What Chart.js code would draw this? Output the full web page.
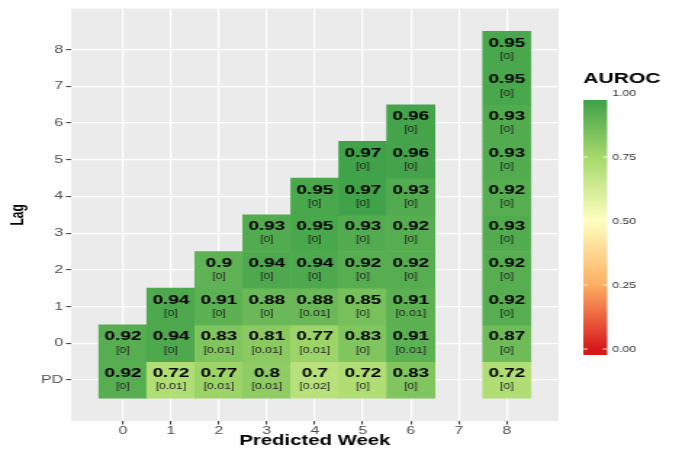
<!DOCTYPE html>
<html>
<head>
<meta charset="utf-8">
<script src="https://cdn.jsdelivr.net/npm/chart.js@4"></script>
<style>
  html, body { margin: 0; padding: 0; background: #fff; }
  canvas { display: block; }
</style>
</head>
<body>
<!-- drawn narrow then stretched, the reference picture is widened the same way -->
<canvas id="heat" width="468" height="455" style="width:679px;height:455px"></canvas>
<script>
// Axes
const weeks = [0, 1, 2, 3, 4, 5, 6, 7, 8];
const lagLabels = ['PD', '0', '1', '2', '3', '4', '5', '6', '7', '8'];

// AUROC per predicted week, from PD (bottom) upward through lag 0..8
const aurocWeek0 = [0.92, 0.92];
const aurocWeek1 = [0.72, 0.94, 0.94];
const aurocWeek2 = [0.77, 0.83, 0.91, 0.9];
const aurocWeek3 = [0.8, 0.81, 0.88, 0.94, 0.93];
const aurocWeek4 = [0.7, 0.77, 0.88, 0.94, 0.95, 0.95];
const aurocWeek5 = [0.72, 0.83, 0.85, 0.92, 0.93, 0.97, 0.97];
const aurocWeek6 = [0.83, 0.91, 0.91, 0.92, 0.92, 0.93, 0.96, 0.96];
const aurocWeek7 = [];
const aurocWeek8 = [0.72, 0.87, 0.92, 0.92, 0.93, 0.92, 0.93, 0.93, 0.95, 0.95];

// spread shown in brackets under each value
const sdWeek0 = [0, 0];
const sdWeek1 = [0.01, 0, 0];
const sdWeek2 = [0.01, 0.01, 0, 0];
const sdWeek3 = [0.01, 0.01, 0, 0, 0];
const sdWeek4 = [0.02, 0.01, 0.01, 0, 0, 0];
const sdWeek5 = [0, 0, 0, 0, 0, 0, 0];
const sdWeek6 = [0, 0.01, 0.01, 0, 0, 0, 0, 0];
const sdWeek7 = [];
const sdWeek8 = [0, 0, 0, 0, 0, 0, 0, 0, 0, 0];

const legendTicks = [0, 0.25, 0.5, 0.75, 1];

// colour scale red -> orange -> pale yellow -> green
const colorStops = [
  [0, [215, 25, 28]],
  [0.25, [253, 174, 97]],
  [0.5, [255, 255, 191]],
  [0.75, [166, 217, 106]],
  [1, [50, 154, 69]]
];

function fillColor(v) {
  for (let i = 1; i < colorStops.length; i++) {
    const [p1, c1] = colorStops[i];
    const [p0, c0] = colorStops[i - 1];
    if (v <= p1) {
      const t = (v - p0) / (p1 - p0);
      const c = c0.map((a, k) => Math.round(a + (c1[k] - a) * t));
      return `rgb(${c[0]},${c[1]},${c[2]})`;
    }
  }
  const c = colorStops[colorStops.length - 1][1];
  return `rgb(${c[0]},${c[1]},${c[2]})`;
}

const weekValues = [aurocWeek0, aurocWeek1, aurocWeek2, aurocWeek3, aurocWeek4, aurocWeek5, aurocWeek6, aurocWeek7, aurocWeek8];
const weekSd = [sdWeek0, sdWeek1, sdWeek2, sdWeek3, sdWeek4, sdWeek5, sdWeek6, sdWeek7, sdWeek8];

// one floating bar per tile; row j sits at y = j - 1 (PD = -1)
const cells = [];
weeks.forEach((w, i) => {
  weekValues[i].forEach((v, j) => {
    cells.push({ x: w, y: [j - 1.5, j - 0.5], v: v, sd: weekSd[i][j] });
  });
});

const FONT = '"Liberation Sans", Arial, Helvetica, sans-serif';

const panelBg = {
  id: 'panelBg',
  beforeDraw(chart) {
    const { ctx, chartArea: a } = chart;
    ctx.save();
    ctx.fillStyle = '#ebebeb';
    ctx.fillRect(a.left, a.top, a.right - a.left, a.bottom - a.top);
    ctx.restore();
  }
};

const cellText = {
  id: 'cellText',
  afterDatasetsDraw(chart) {
    const ctx = chart.ctx;
    const meta = chart.getDatasetMeta(0);
    ctx.save();
    ctx.textAlign = 'center';
    ctx.textBaseline = 'middle';
    meta.data.forEach((bar, i) => {
      const c = cells[i];
      const cy = (bar.y + bar.base) / 2;
      ctx.fillStyle = '#000';
      ctx.font = 'bold 13px ' + FONT;
      ctx.fillText(String(c.v), bar.x, cy - 6.5);
      ctx.fillStyle = '#222';
      ctx.font = '8.5px ' + FONT;
      ctx.fillText('[' + c.sd + ']', bar.x, cy + 7);
    });
    ctx.restore();
  }
};

const colorLegend = {
  id: 'colorLegend',
  afterDraw(chart) {
    const ctx = chart.ctx;
    const x0 = 402, w = 16.5, top = 100, bottom = 355;
    const y0 = 349, span = 256; // pixel of 0 and length of 0..1
    ctx.save();
    ctx.fillStyle = '#000';
    ctx.font = 'bold 14.5px ' + FONT;
    ctx.textAlign = 'left';
    ctx.textBaseline = 'alphabetic';
    ctx.fillText('AUROC', x0, 82.5);

    const g = ctx.createLinearGradient(0, y0, 0, y0 - span);
    colorStops.forEach(([p, c]) => g.addColorStop(p, `rgb(${c[0]},${c[1]},${c[2]})`));
    ctx.fillStyle = g;
    ctx.fillRect(x0, top, w, bottom - top);

    ctx.font = '8.5px ' + FONT;
    ctx.textBaseline = 'middle';
    legendTicks.forEach(t => {
      const y = y0 - t * span;
      if (y > top && y < bottom) {
        ctx.strokeStyle = 'rgba(255,255,255,0.9)';
        ctx.lineWidth = 1;
        ctx.beginPath();
        ctx.moveTo(x0, y); ctx.lineTo(x0 + 3, y);
        ctx.moveTo(x0 + w - 3, y); ctx.lineTo(x0 + w, y);
        ctx.stroke();
      }
      ctx.fillStyle = '#333';
      ctx.fillText(t.toFixed(2), x0 + 20, y + 0.5);
    });
    ctx.restore();
  }
};

const gridStyle = {
  color: '#ffffff',
  lineWidth: 1.2,
  offset: false,
  drawTicks: true,
  tickLength: 3.5,
  tickColor: '#333333',
  tickWidth: 1
};

new Chart(document.getElementById('heat'), {
  type: 'bar',
  data: {
    datasets: [{
      data: cells,
      backgroundColor: ctx => fillColor(ctx.raw.v),
      borderWidth: 0,
      barPercentage: 1,
      categoryPercentage: 1,
      grouped: false
    }]
  },
  options: {
    responsive: false,
    devicePixelRatio: 1,
    animation: false,
    layout: { padding: { left: 0, right: 83, top: 6, bottom: 0 } },
    plugins: {
      legend: { display: false },
      tooltip: { enabled: false }
    },
    scales: {
      x: {
        type: 'linear',
        offset: false,
        min: -1.08,
        max: 9.08,
        afterBuildTicks: s => { s.ticks = weeks.map(v => ({ value: v })); },
        afterFit: s => { s.height = 34; },
        grid: gridStyle,
        border: { display: false },
        ticks: {
          autoSkip: false,
          maxRotation: 0,
          padding: 0,
          color: '#4d4d4d',
          font: { family: FONT, size: 11 },
          callback: v => String(v)
        },
        title: {
          display: true,
          text: 'Predicted Week',
          color: '#000',
          font: { family: FONT, size: 14, weight: 'bold' },
          padding: { top: 0, bottom: 5.5 }
        }
      },
      y: {
        type: 'linear',
        offset: false,
        min: -2.12,
        max: 9.12,
        afterBuildTicks: s => { s.ticks = lagLabels.map((l, i) => ({ value: i - 1 })); },
        afterFit: s => { s.width = 49; },
        grid: gridStyle,
        border: { display: false },
        ticks: {
          autoSkip: false,
          padding: 2,
          color: '#4d4d4d',
          font: { family: FONT, size: 11 },
          callback: v => lagLabels[v + 1]
        },
        title: {
          display: true,
          text: 'Lag',
          color: '#000',
          font: { family: '"Liberation Sans Narrow", ' + FONT, size: 12, weight: 'bold' },
          padding: { top: 5, bottom: 0 }
        }
      }
    }
  },
  plugins: [panelBg, cellText, colorLegend]
});
</script>
</body>
</html>
